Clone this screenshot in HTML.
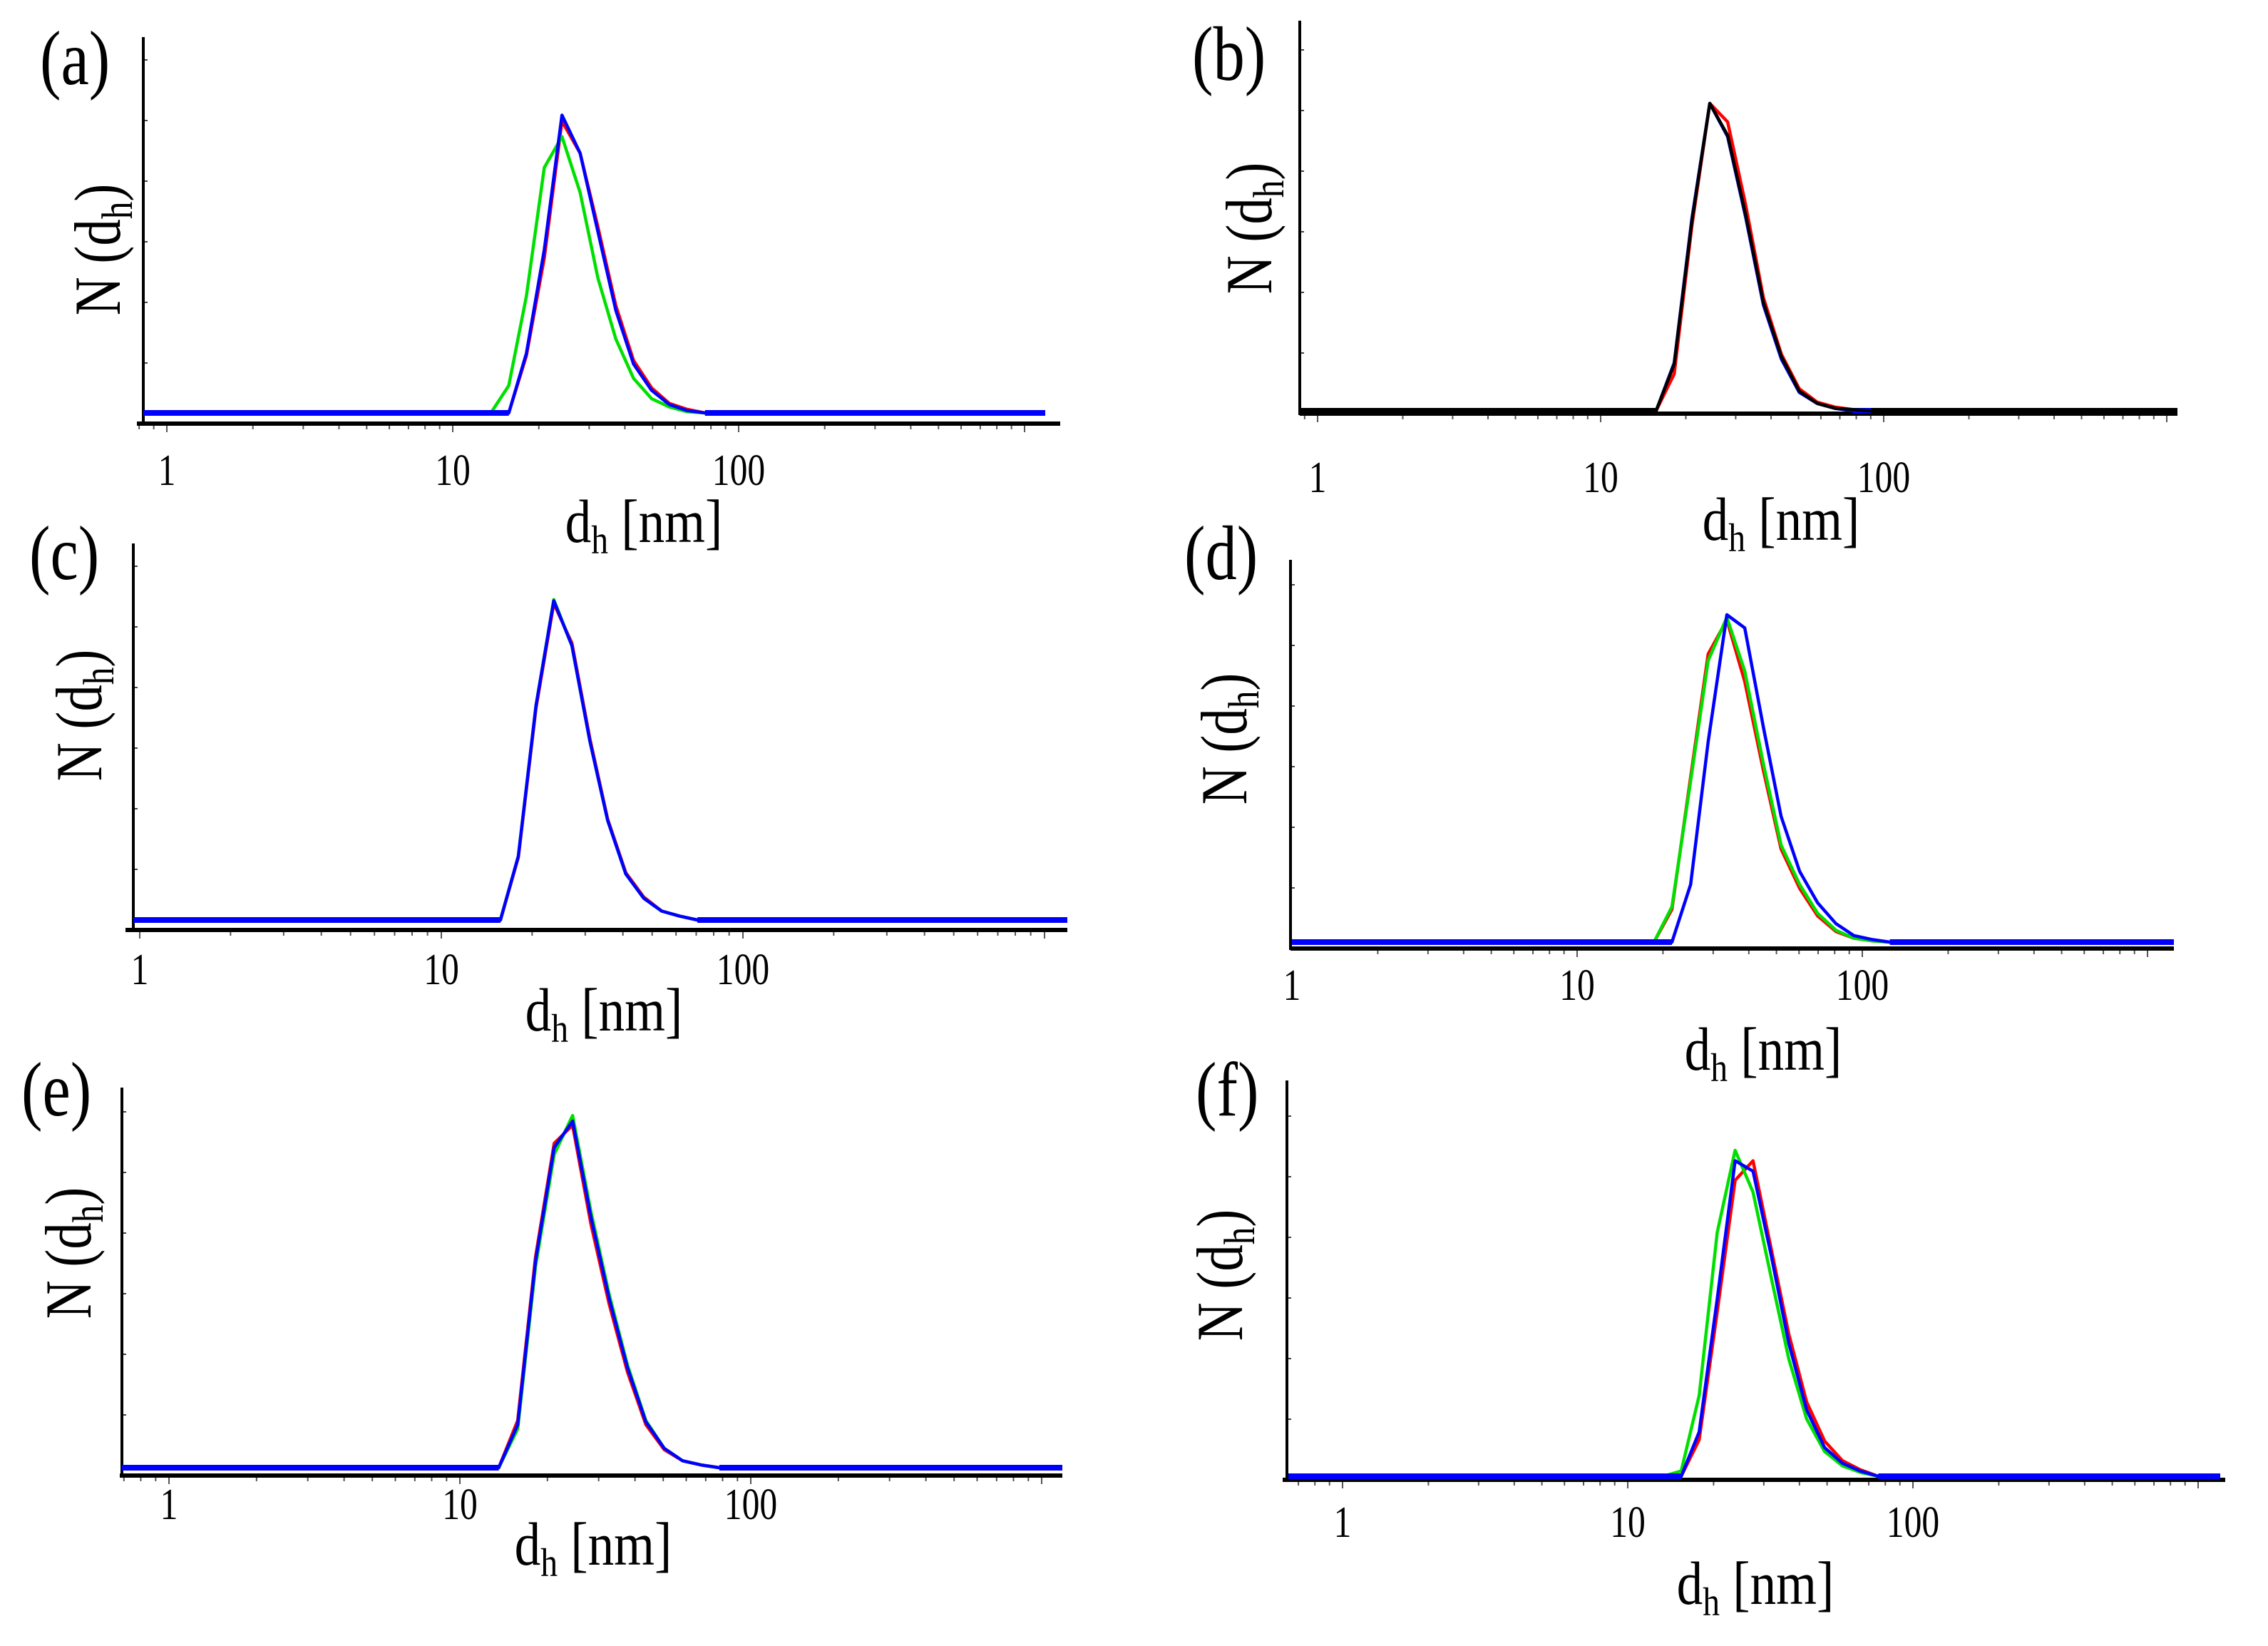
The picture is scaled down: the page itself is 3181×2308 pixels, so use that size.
<!DOCTYPE html>
<html><head><meta charset="utf-8">
<style>
html,body{margin:0;padding:0;background:#fff;}
svg{display:block;}
text{font-family:"Liberation Serif",serif;fill:#000;}
</style></head>
<body>
<svg id="fig" width="3181" height="2308" viewBox="0 0 3181 2308" xmlns="http://www.w3.org/2000/svg"></svg>
<script>
// ---- data: hydrodynamic diameter bins (nm) and number distributions N(dh) per panel ----
const dA = [13.6,15.7,18.1,20.9,24.1,27.9,32.2,37.2,42.9,49.6,57.2,66.1,76.3];
const aRed   = [0,0,4.8,13,24.5,21.8,15.6,9,4.4,2.1,0.8,0.3,0];
const aGreen = [0,2.3,9.8,20.6,23.2,18.5,11.3,6.2,2.9,1.2,0.5,0.1,0];
const aBlue  = [0,0,5.0,13.7,25,21.8,15.2,8.6,4.1,1.9,0.7,0.2,0];

const dB = [13.6,15.7,18.2,21.0,24.3,28.1,32.5,37.6,43.5,50.3,58.2,67.3,77.9,90.1];
const bRed   = [0,0,3.0,15,25,23.5,16.8,9.2,4.6,1.8,0.7,0.3,0.1,0];
const bBlue  = [0,0,3.9,15.6,25,22.3,15.8,8.6,4.2,1.5,0.6,0.2,0,0];
const bBlack = [0,0,3.8,15.4,25,22.4,16,8.8,4.4,1.6,0.6,0.2,0.1,0];

const dC = [13.6,15.7,18.0,20.6,23.6,27.1,31.1,35.6,40.9,46.9,53.8,61.7,70.7];
const cRed   = [0,0,4.9,16.6,24.8,21.7,14.2,7.9,3.7,1.8,0.7,0.3,0];
const cGreen = [0,0,5.0,16.8,25.1,21.5,14.0,7.8,3.6,1.7,0.7,0.3,0];
const cBlue  = [0,0,5.0,16.8,25,21.5,14.0,7.8,3.6,1.7,0.7,0.3,0];

const dD = [18.6,21.5,25.0,28.8,33.5,38.7,45.0,51.9,60.3,69.7,80.9,93.3,108,125];
const dRed   = [0,2.5,12.6,22.0,24.6,19.9,13.1,7.1,4.1,2.0,0.8,0.3,0.1,0];
const dGreen = [0,2.7,12.3,21.5,24.8,20.7,13.6,7.4,4.4,2.2,0.9,0.3,0.1,0];
const dBlue  = [0,0,4.4,15.3,25,24.0,16.4,9.6,5.4,3.0,1.4,0.5,0.2,0];

const dE = [13.6,15.8,18.2,21.1,24.4,28.2,32.6,37.7,43.6,50.4,58.3,67.4,78.0];
const eRed   = [0,3.4,15.2,23.4,24.7,17.6,11.8,6.9,3.1,1.3,0.5,0.2,0];
const eGreen = [0,2.8,14.5,22.6,25.4,18.5,12.5,7.4,3.4,1.4,0.5,0.2,0];
const eBlue  = [0,3.1,14.9,23.1,25,18.1,12.2,7.2,3.3,1.4,0.5,0.2,0];

const dF = [13.3,15.4,17.8,20.6,23.8,27.5,31.8,36.7,42.4,49.0,56.6,65.4,75.6];
const fRed   = [0,0,2.8,12.6,22.7,24.2,17.5,10.9,5.7,2.7,1.2,0.5,0];
const fGreen = [0,0.4,6.2,18.7,25,21.8,15.3,9.0,4.4,1.9,0.8,0.3,0];
const fBlue  = [0,0,3.4,13.6,24.2,23.4,17.0,10.2,5.1,2.2,1.0,0.4,0];

const tickValues = [1,10,100];
const tickLabels = ["1","10","100"];

// ---- layout ----
const NS = "http://www.w3.org/2000/svg";
const svg = document.getElementById('fig');
function mk(tag, attrs, parent){
  const e = document.createElementNS(NS, tag);
  for (const k in attrs) e.setAttribute(k, attrs[k]);
  (parent||svg).appendChild(e);
  return e;
}

const panels = [
 {id:'a', yx:201, ytop:52, xy:594, xL:192, xR:1487, t1:234, dec:401, base:579, ppu:16.7, cL:201, cR:1466,
  tickY:680, xlabX:903, xlabY:760, labX:56, labY:118, ylX:138, ylY:350,
  d:dA, series:[[aRed,'#ff0000'],[aGreen,'#00e000'],[aBlue,'#0000ff']]},
 {id:'b', yx:1823, ytop:29, xy:580, xL:1823, xR:3054, t1:1848, dec:397, base:576, ppu:17.24, cL:1825, cR:3054,
  tickY:690, xlabX:2498, xlabY:757, labX:1672, labY:112, ylX:1753, ylY:320,
  d:dB, series:[[bRed,'#ff0000'],[bBlue,'#0000ff'],[bBlack,'#000000']]},
 {id:'c', yx:187, ytop:762, xy:1304, xL:176, xR:1497, t1:196, dec:423, base:1290, ppu:17.9, cL:187, cR:1497,
  tickY:1380, xlabX:847, xlabY:1445, labX:41, labY:812, ylX:112, ylY:1003,
  d:dC, series:[[cRed,'#ff0000'],[cGreen,'#00e000'],[cBlue,'#0000ff']]},
 {id:'d', yx:1810, ytop:785, xy:1330, xL:1810, xR:3049, t1:1812, dec:400, base:1321, ppu:18.36, cL:1812, cR:3049,
  tickY:1402, xlabX:2473, xlabY:1500, labX:1661, labY:812, ylX:1718, ylY:1036,
  d:dD, series:[[dRed,'#ff0000'],[dGreen,'#00e000'],[dBlue,'#0000ff']]},
 {id:'e', yx:171, ytop:1525, xy:2069, xL:168, xR:1490, t1:237, dec:408, base:2058, ppu:19.44, cL:171, cR:1490,
  tickY:2130, xlabX:832, xlabY:2194, labX:30, labY:1564, ylX:97, ylY:1757,
  d:dE, series:[[eRed,'#ff0000'],[eGreen,'#00e000'],[eBlue,'#0000ff']]},
 {id:'f', yx:1805, ytop:1515, xy:2075, xL:1799, xR:3121, t1:1883, dec:400, base:2070, ppu:18.28, cL:1807, cR:3114,
  tickY:2155, xlabX:2462, xlabY:2249, labX:1677, labY:1564, ylX:1712, ylY:1788,
  d:dF, series:[[fRed,'#ff0000'],[fGreen,'#00e000'],[fBlue,'#0000ff']]}
];

panels.forEach(p => {
  const g = mk('g', {});
  
  
  const X = d => p.t1 + p.dec * Math.log10(d);
  const Y = v => p.base - v * p.ppu;

  // y axis minor ticks
  for (let y = p.xy - 85; y > p.ytop + 20; y -= 85) {
    mk('line', {x1:p.yx, x2:p.yx+6, y1:y, y2:y, stroke:'#444', 'stroke-width':2}, g);
  }
  // x minor ticks (log)
  for (let e = -1; e <= 3; e++) {
    for (let m = 1; m <= 9; m++) {
      const xx = p.t1 + p.dec * (e + Math.log10(m));
      if (xx < p.xL + 3 || xx > p.xR - 3) continue;
      mk('line', {x1:xx, x2:xx, y1:p.xy, y2:p.xy + (m===1?12:8), stroke:'#555', 'stroke-width':2}, g);
    }
  }
  // axes
  const ya = mk('line', {x1:p.yx, x2:p.yx, y1:p.ytop, y2:p.xy+2, stroke:'#000', 'stroke-width':4}, g);
  
  
  const xa = mk('line', {x1:p.xL, x2:p.xR, y1:p.xy, y2:p.xy, stroke:'#000', 'stroke-width':6}, g);
  
  

  // tick labels
  tickValues.forEach((tv, i) => {
    const t = mk('text', {x:0, y:0, 'font-size':62, 'text-anchor':'middle',
      transform:'translate(' + X(tv).toFixed(1) + ',' + p.tickY + ') scale(0.8,1)'}, g);
    t.textContent = tickLabels[i];
    
    
  });

  // series
  p.series.forEach(([vals, col], si) => {
    const pts = [];
    pts.push([p.cL, p.base]);
    p.d.forEach((dv, i) => pts.push([X(dv), Y(vals[i])]));
    pts.push([p.cR, p.base]);
    const pl = mk('polyline', {points: pts.map(q => q[0].toFixed(1)+','+q[1].toFixed(1)).join(' '),
      fill:'none', stroke:col, 'stroke-width':4.5, 'stroke-linejoin':'round'}, g);
    
    
    // thick flat baseline segments (through leading/trailing zero bins)
    let fi = 0; while (fi + 1 < vals.length && vals[fi + 1] === 0) fi++;
    let li = vals.length - 1; while (li - 1 >= 0 && vals[li - 1] === 0) li--;
    mk('line', {x1:p.cL, x2:X(p.d[fi]), y1:p.base, y2:p.base, stroke:col, 'stroke-width':8}, g);
    mk('line', {x1:X(p.d[li]), x2:p.cR, y1:p.base, y2:p.base, stroke:col, 'stroke-width':8}, g);
  });

  // x label
  const xl = mk('text', {x:0, y:0, 'font-size':86, 'text-anchor':'middle',
    transform:'translate(' + p.xlabX + ',' + p.xlabY + ') scale(0.85,1)'}, g);
  xl.innerHTML = 'd<tspan font-size="56" dy="16">h</tspan><tspan dy="-16"> [nm]</tspan>';
  
  

  // y label
  const yl = mk('text', {x:0, y:0, 'font-size':88, 'text-anchor':'middle',
    transform:'translate(' + (p.ylX + 30) + ',' + p.ylY + ') rotate(-90) scale(0.85,1.05)'}, g);
  yl.innerHTML = 'N (d<tspan font-size="58" dy="16">h</tspan><tspan dy="-16">)</tspan>';
  
  

  // panel label
  const lb = mk('text', {x:0, y:0, 'font-size':108,
    transform:'translate(' + p.labX + ',' + p.labY + ') scale(0.82,1)'}, g);
  lb.textContent = '(' + p.id + ')';
  
  
});
</script>
</body></html>
